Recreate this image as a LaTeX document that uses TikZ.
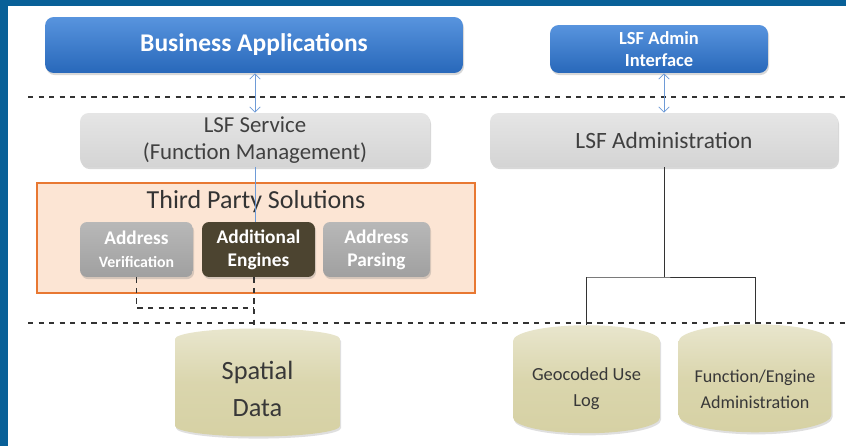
\documentclass[tikz,border=0pt]{standalone}
\usepackage{fontspec}
\setmainfont{Carlito}
\usepackage{tikz}
\usetikzlibrary{shapes.geometric, arrows.meta, positioning, shadows}
\definecolor{frameblue}{RGB}{8,96,152}
\definecolor{bizblue}{RGB}{40,104,186}
\definecolor{bizbluetop}{RGB}{88,148,222}
\definecolor{servicegray}{RGB}{212,212,212}
\definecolor{addrgray}{RGB}{160,160,160}
\definecolor{engineolive}{RGB}{76,68,48}
\definecolor{peach}{RGB}{252,229,212}
\definecolor{tporange}{RGB}{232,120,50}
\definecolor{khaki}{RGB}{214,209,164}
\definecolor{linkblue}{RGB}{110,155,215}

\begin{document}
\begin{tikzpicture}[
    x=0.02cm, y=-0.02cm,
    box/.style={rounded corners=5pt, align=center, inner sep=2pt, drop shadow={opacity=0.3, shadow xshift=0.6pt, shadow yshift=-1.2pt}},
    topbox/.style={box, top color=bizbluetop, bottom color=bizblue, text=white},
    graybox/.style={box, top color=servicegray!60, bottom color=servicegray, text=black!75, font=\fontsize{13}{15.5}\selectfont},
    enginebox/.style={box, rounded corners=4pt, minimum width=2.26cm, minimum height=1.1cm, text=white, font=\fontsize{11}{13}\selectfont\bfseries},
    store/.style={cylinder, shape border rotate=90, aspect=0.28, inner sep=1pt, minimum height=2.16cm, top color=khaki!55, bottom color=khaki, middle color=khaki!90, text=black!78, align=center, drop shadow={opacity=0.25, shadow xshift=0.6pt, shadow yshift=-1.2pt}},
    link/.style={{Straight Barb[length=3pt]}-{Straight Barb[length=3pt]}, linkblue, thin},
    tier/.style={dashed, thick, black!80},
    tree/.style={black!80}
]
    % frame
    \useasboundingbox (0,0) rectangle (846,446);
    \fill[frameblue] (0,0) rectangle (846,446);
    \fill[white] (8,6) rectangle (846,446);

    % tiers
    \draw[tier] (28,97) -- (846,97);
    \draw[tier] (28,323) -- (846,323);

    \node[topbox, minimum width=8.36cm, minimum height=1.12cm, font=\fontsize{14.5}{16}\selectfont\bfseries] (bizapp) at (254,45) {Business Applications};
    \node[topbox, minimum width=4.36cm, minimum height=0.96cm, font=\fontsize{10.5}{12.5}\selectfont\bfseries] (admint) at (659,49) {LSF Admin\\Interface};
    \node[graybox, minimum width=7cm, minimum height=1.08cm] (service) at (255,140) {LSF Service\\(Function Management)};
    \node[graybox, minimum width=6.96cm, minimum height=1.08cm, font=\fontsize{13.3}{15.5}\selectfont] (admin) at (664,140) {LSF Administration};

    % third party
    \node[draw=tporange, line width=1.6pt, fill=peach, minimum width=8.76cm, minimum height=2.2cm] (third) at (256,238) {};
    \node[font=\fontsize{14.8}{17}\selectfont, text=black!80] (thirdtitle) at (256,202) {Third Party Solutions};
    \node[enginebox, top color=addrgray!75, bottom color=addrgray] (verif) at (136.5,249.5) {Address\\{\fontsize{9}{11}\selectfont Verification}};
    \node[enginebox, fill=engineolive] (engines) at (258.5,249.5) {Additional\\Engines};
    \node[enginebox, top color=addrgray!75, bottom color=addrgray, minimum width=2.14cm] (parsing) at (376.5,249.5) {Address\\Parsing};

    % data stores
    \node[store, minimum width=3.3cm, font=\fontsize{15}{21}\selectfont] (spatial) at (257.5,389) {Spatial\\Data};
    \node[store, minimum width=2.94cm, font=\fontsize{10.5}{15}\selectfont] (geolog) at (586.5,389) {Geocoded Use\\Log};
    \node[store, minimum width=3.06cm, font=\fontsize{10.3}{15}\selectfont] (fnadm) at (755,389) {Function/Engine\\Administration};

    \draw[link] (service.north |- bizapp.south) -- (service.north);
    \draw[link] (admin.north |- admint.south) -- (admin.north);
    \draw[linkblue] (service.south) -- (service.south |- engines.north);

    \coordinate (tap) at (254,308);
    \draw[tier] (verif.south) |- (tap);
    \draw[tier] (engines.south -| tap) -- (spatial.north -| tap);

    \coordinate (fork) at (587,277);
    \draw[tree] (admin.south) -- (admin.south |- fork);
    \draw[tree] (geolog.north) |- (fork) -| (fnadm.north);
\end{tikzpicture}
\end{document}
